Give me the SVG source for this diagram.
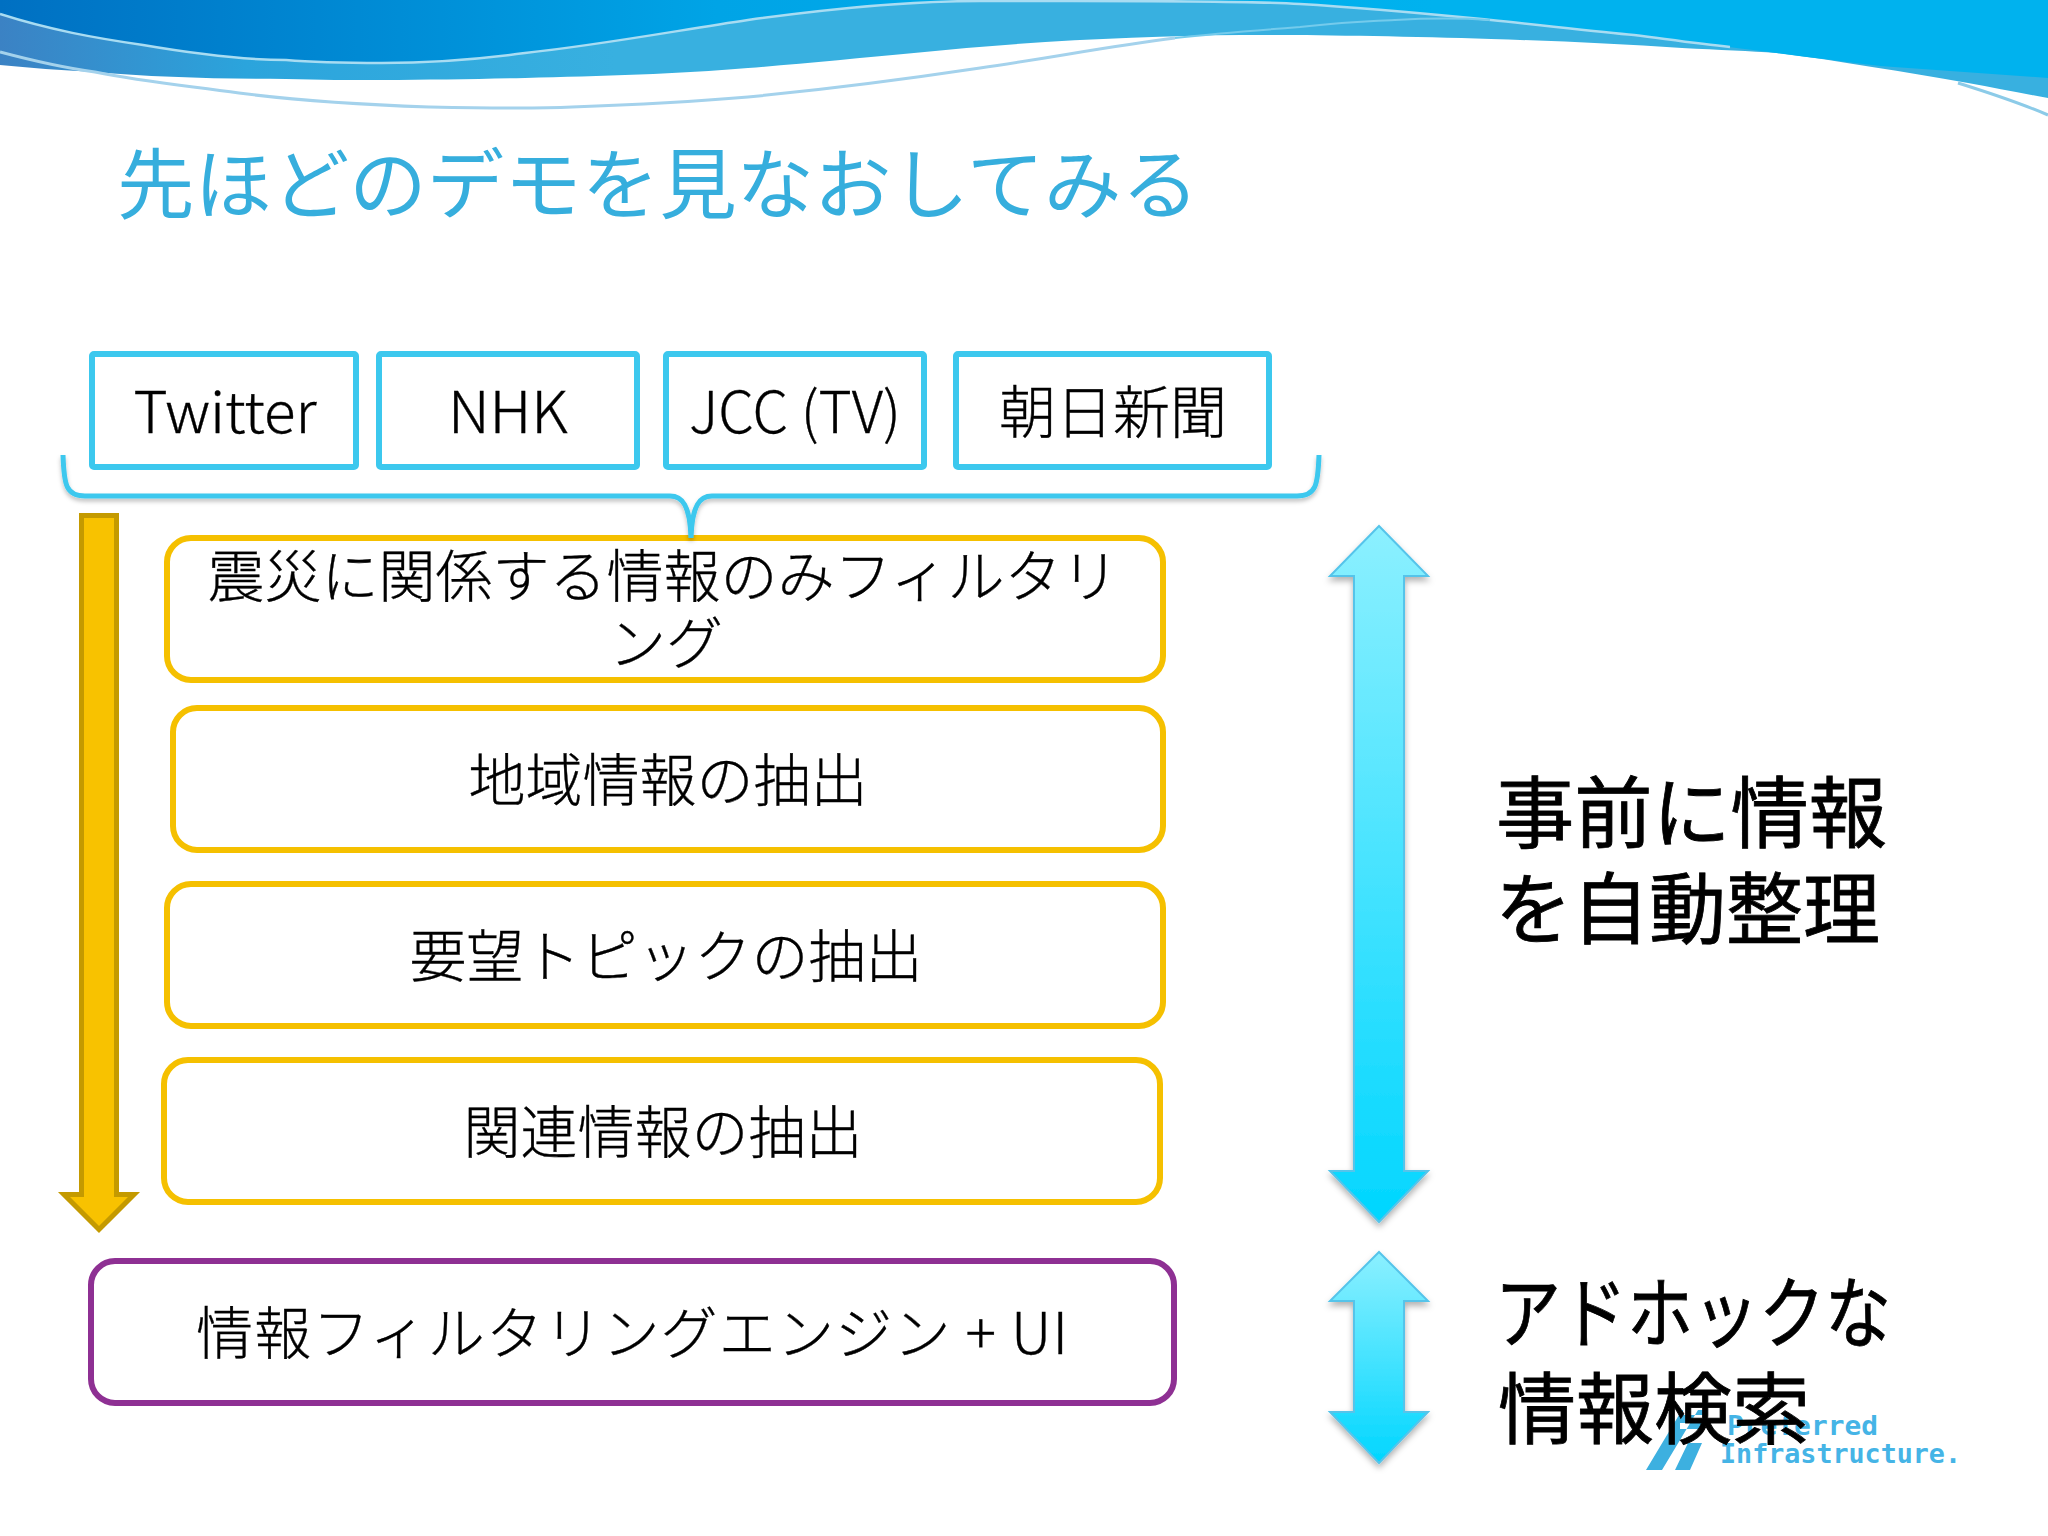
<svg xmlns="http://www.w3.org/2000/svg" width="2048" height="1536" viewBox="0 0 2048 1536">
<style>
text{font-family:"Noto Sans CJK JP","Noto Sans",sans-serif;fill:#000;text-anchor:middle}
.lb{font-size:57px;font-weight:300;stroke:#000;stroke-width:.35}
.big{font-size:78px;font-weight:400;text-anchor:start;stroke:#000;stroke-width:.8}
.src{fill:#fff;stroke:#3cc8ee;stroke-width:6}
.yel{fill:#fff;stroke:#f5c000;stroke-width:6}
.pur{fill:#fff;stroke:#8e3093;stroke-width:6}
.blu{fill:url(#bg);stroke:#55c4ea;stroke-width:2;filter:url(#sh)}
.logo{font-family:"DejaVu Sans Mono",monospace;font-weight:700;fill:#45b4e6;text-anchor:start;font-size:26px}
</style>
<defs>
<linearGradient id="dk" x1="0" x2="1" y1="0" y2="0"><stop offset="0" stop-color="#0070c2"/><stop offset=".35" stop-color="#00a4e6"/><stop offset=".7" stop-color="#00b2ee"/><stop offset="1" stop-color="#00b2ee"/></linearGradient>
<linearGradient id="lt" x1="0" x2="1" y1="0" y2="0"><stop offset="0" stop-color="#3b82c4"/><stop offset=".12" stop-color="#2ba4dc"/><stop offset=".3" stop-color="#38b0e0"/><stop offset="1" stop-color="#38b0e0"/></linearGradient>
<linearGradient id="bg" x1="0" x2="0" y1="0" y2="1"><stop offset="0" stop-color="#8cf0ff"/><stop offset="1" stop-color="#00d6ff"/></linearGradient>
<filter id="sh" x="-20%" y="-10%" width="140%" height="125%"><feDropShadow dx="0" dy="4" stdDeviation="3" flood-color="#000" flood-opacity=".3"/></filter>
<filter id="bs" x="-5%" y="-20%" width="110%" height="150%"><feDropShadow dx="0" dy="3" stdDeviation="2" flood-color="#000" flood-opacity=".25"/></filter>
</defs>
<rect width="2048" height="1536" fill="#fff"/>
<g id="header">
<path d="M0,0H2048V98C2020,93 1995,88 1968,83C1935,77 1905,72 1872,67C1840,62 1810,57 1777,53C1750,51 1720,50 1682,48C1620,44 1560,41 1491,39C1400,36 1300,35 1241,35C1140,36 1030,41 914,53C860,58 800,64 748,68C680,74 600,76 525,78C480,79 430,80 382,80C350,80 320,80 286,79C220,79 150,77 95,72C60,70 30,68 0,65Z" fill="url(#lt)"/>
<path d="M0,0H2048V78L1880,66C1840,61 1800,56 1753,50C1720,46 1680,41 1634,35C1600,32 1540,25 1491,20C1440,15 1370,8 1300,4C1230,0 1100,1 980,1C900,1 820,10 748,20C680,30 600,45 525,53C480,59 430,63 382,63C350,63 320,63 286,60C240,60 190,53 143,45C95,38 50,30 0,14Z" fill="url(#dk)"/>
<path d="M0,14C50,30 95,38 143,45C190,53 240,60 286,60C320,63 350,63 382,63C430,63 480,59 525,53C600,45 680,30 748,20C820,10 900,1 980,1C1100,1 1230,0 1300,4C1370,8 1440,15 1491,20C1540,25 1600,32 1634,35C1680,41 1700,44 1730,47" fill="none" stroke="#a8dcf2" stroke-width="2.500"/>
<path d="M0,52C30,60 65,68 95,72C145,82 190,86 239,93C300,101 370,105 429,107C480,108 530,109 572,107C630,105 690,102 748,97C820,90 900,80 980,68C1050,58 1110,46 1175,38" fill="none" stroke="#a4d2ec" stroke-width="3"/>
<path d="M1175,38C1220,33 1260,30 1300,27C1340,22 1370,21 1395,20C1430,18 1460,18 1490,20" fill="none" stroke="#74cbec" stroke-width="2"/>
<path d="M1958,83C1990,93 2020,103 2048,115" fill="none" stroke="#8ccbe8" stroke-width="3"/>
</g>
<text id="title" x="658" y="213" font-size="77" font-weight="400" textLength="1082" lengthAdjust="spacingAndGlyphs" style="fill:#36aedd">先ほどのデモを見なおしてみる</text>
<g id="logo" fill="#3db0e0">
<path d="M1646,1470H1662L1698,1410H1682ZM1675,1470H1690L1702,1443H1688ZM1683,1410H1703V1415H1683ZM1680,1423H1703V1429H1680Z"/>
<text class="logo" x="1727" y="1435" textLength="151" lengthAdjust="spacingAndGlyphs">Preferred</text>
<text class="logo" x="1720" y="1463" textLength="241" lengthAdjust="spacingAndGlyphs">Infrastructure.</text>
</g>
<g id="src-twitter"><rect class="src" x="92" y="354" width="264" height="113" rx="2"/><text class="lb" x="225" y="433" textLength="183" lengthAdjust="spacingAndGlyphs">Twitter</text></g>
<g id="src-nhk"><rect class="src" x="379" y="354" width="258" height="113" rx="2"/><text class="lb" x="508" y="433" textLength="120" lengthAdjust="spacingAndGlyphs">NHK</text></g>
<g id="src-jcc"><rect class="src" x="666" y="354" width="258" height="113" rx="2"/><text class="lb" x="795" y="433" textLength="212" lengthAdjust="spacingAndGlyphs">JCC (TV)</text></g>
<g id="src-asahi"><rect class="src" x="956" y="354" width="313" height="113" rx="2"/><text class="lb" x="1113" y="433">朝日新聞</text></g>
<g id="step-1"><rect class="yel" x="167" y="538" width="996" height="142" rx="24"/><text class="lb" x="663" y="597">震災に関係する情報のみフィルタリ</text><text class="lb" x="666" y="664">ング</text></g>
<g id="step-2"><rect class="yel" x="173" y="708" width="990" height="142" rx="24"/><text class="lb" x="668" y="801">地域情報の抽出</text></g>
<g id="step-3"><rect class="yel" x="167" y="884" width="996" height="142" rx="24"/><text class="lb" x="666" y="977">要望トピックの抽出</text></g>
<g id="step-4"><rect class="yel" x="164" y="1060" width="996" height="142" rx="24"/><text class="lb" x="663" y="1153">関連情報の抽出</text></g>
<g id="engine"><rect class="pur" x="91" y="1261" width="1083" height="142" rx="24"/><text class="lb" x="632" y="1354" textLength="872">情報フィルタリングエンジン + UI</text></g>
<g id="connectors">
<path d="M63,455C64,485 66,496 85,496H670C682,496 690,505 691,538C692,505 700,496 712,496H1297C1316,496 1318,485 1319,455" fill="none" stroke="#3cc8ee" stroke-width="5" filter="url(#bs)"/>
<path d="M81.500,515.500H116.500V1194.500H134L99,1229.500L64,1194.500H81.500Z" fill="#f8c200" stroke="#c49a00" stroke-width="5"/>
<path class="blu" d="M1379,526L1428,576H1404V1171H1428L1379,1222L1330,1171H1354V576H1330Z"/>
<path class="blu" d="M1379,1252L1428,1301H1404V1412H1428L1379,1463L1330,1412H1354V1301H1330Z"/>
</g>
<g id="notes">
<text class="big" x="1496" y="842" textLength="391" lengthAdjust="spacingAndGlyphs">事前に情報</text>
<text class="big" x="1495" y="938" textLength="385" lengthAdjust="spacingAndGlyphs">を自動整理</text>
<text class="big" x="1495" y="1342" textLength="396" lengthAdjust="spacingAndGlyphs">アドホックな</text>
<text class="big" x="1498" y="1438" textLength="312" lengthAdjust="spacingAndGlyphs">情報検索</text>
</g>
</svg>
